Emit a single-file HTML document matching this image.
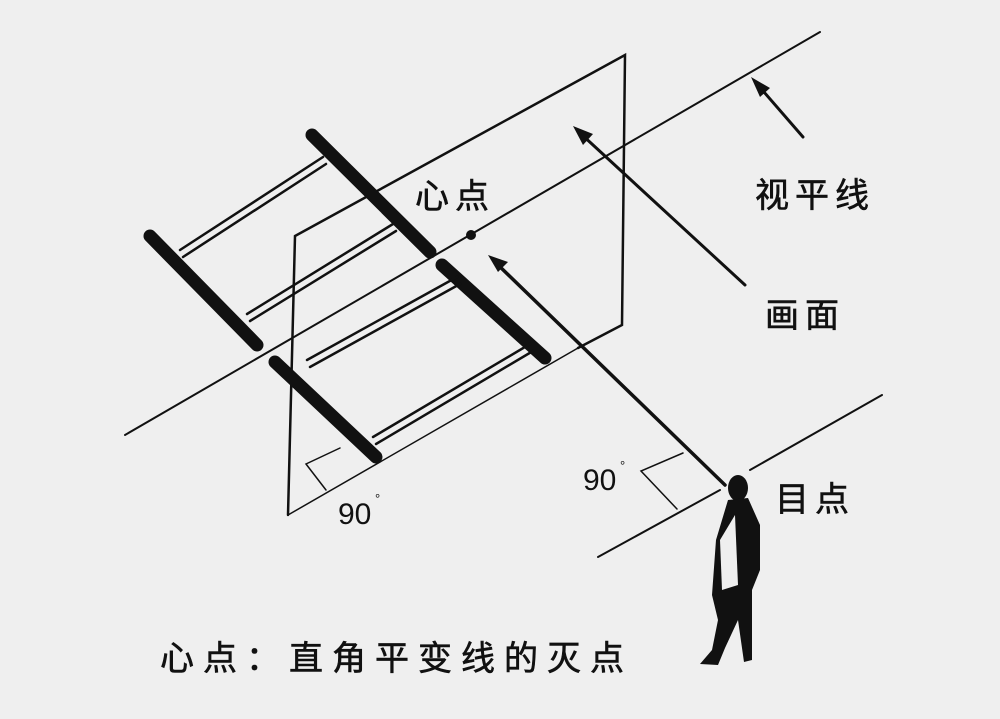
<!DOCTYPE html>
<html><head><meta charset="utf-8"><style>
html,body{margin:0;padding:0;background:#efefef}
svg{display:block}
text{font-family:"Liberation Sans","Noto Sans CJK SC",sans-serif;fill:#111}
</style></head><body>
<svg width="1000" height="719" viewBox="0 0 1000 719">
<rect width="1000" height="719" fill="#efefef"/>
<g stroke="#111" fill="none" stroke-linecap="round">
<line x1="125" y1="435" x2="820" y2="32" stroke-width="2"/>
<polyline points="288,515 295,236 625,55 622,325 578,348" stroke-width="2.5"/>
<line x1="288" y1="515" x2="578" y2="348" stroke-width="1.5"/>
<line x1="312" y1="135" x2="430" y2="252" stroke-width="13"/>
<line x1="442" y1="265" x2="545" y2="358" stroke-width="13"/>
<line x1="150" y1="236" x2="257" y2="345" stroke-width="13"/>
<line x1="275" y1="362" x2="376" y2="457" stroke-width="13"/>
<g stroke-width="2.5">
<line x1="180" y1="250" x2="323" y2="157"/><line x1="183" y1="257" x2="326" y2="164"/>
<line x1="247" y1="314" x2="393" y2="224"/><line x1="250" y1="321" x2="396" y2="231"/>
<line x1="307" y1="360" x2="457" y2="277"/><line x1="310" y1="367" x2="460" y2="284"/>
<line x1="373" y1="437" x2="530" y2="344"/><line x1="376" y1="444" x2="533" y2="351"/>
</g>
<polyline points="340,448 306,464 326,490" stroke-width="1.5"/>
<line x1="725" y1="485" x2="495" y2="262" stroke-width="3.5"/>
<polygon points="488,255 508,262 498,272" fill="#111" stroke="none"/>
<circle cx="471" cy="235" r="5" fill="#111" stroke="none"/>
<line x1="745" y1="285" x2="580" y2="133" stroke-width="3"/>
<polygon points="573,126 593,134 583,145" fill="#111" stroke="none"/>
<line x1="803" y1="137" x2="757" y2="84" stroke-width="3"/>
<polygon points="751,77 770,88 760,97" fill="#111" stroke="none"/>
<line x1="750" y1="470" x2="882" y2="395" stroke-width="2"/>
<line x1="598" y1="557" x2="720" y2="490" stroke-width="2"/>
<polyline points="683,453 641,471 677,509" stroke-width="1.5"/>
</g>
<g fill="#111">
<ellipse cx="738" cy="488" rx="10" ry="13"/>
<path d="M728,500 L748,498 L760,525 L760,570 L752,590 L752,660 L744,662 L738,620 L725,648 L718,665 L700,664 L712,650 L718,620 L712,595 L716,540 Z"/>
</g>
<path d="M720,540 L735,515 L738,585 L722,590 Z" fill="#efefef"/>
<g font-size="34" letter-spacing="6" stroke="#111" stroke-width="0.6">
<text x="415" y="208">心点</text>
<text x="755" y="207">视平线</text>
<text x="765" y="327">画面</text>
<text x="775" y="511">目点</text>
</g>
<text x="338" y="524" font-size="30">90</text><text x="375" y="503" font-size="13">°</text>
<text x="583" y="490" font-size="30">90</text><text x="620" y="470" font-size="13">°</text>
<text x="160" y="670" font-size="34" letter-spacing="9" stroke="#111" stroke-width="0.6">心点：直角平变线的灭点</text>
</svg>
</body></html>
